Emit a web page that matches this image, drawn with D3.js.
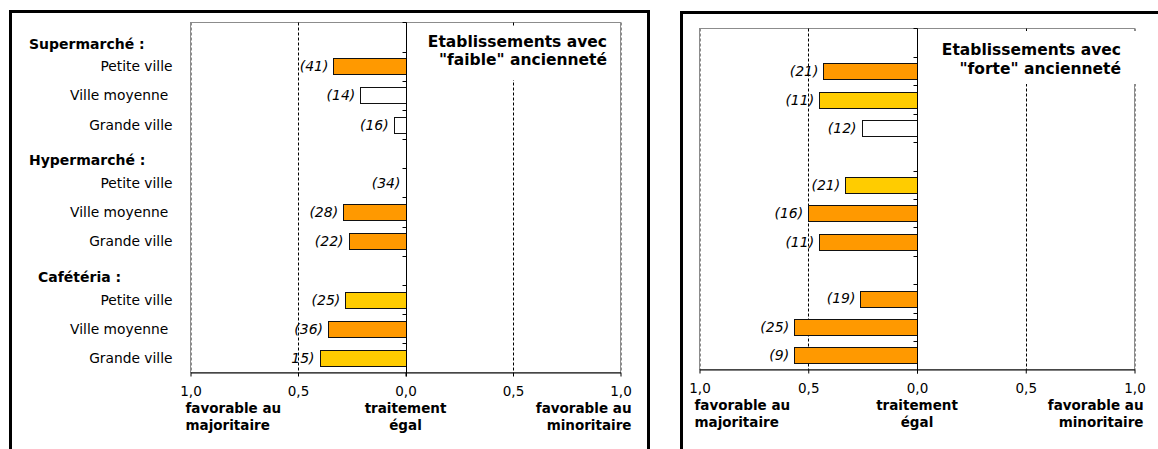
<!DOCTYPE html>
<html><head><meta charset="utf-8">
<script src="https://cdn.jsdelivr.net/npm/d3@7"></script>
<style>
body{margin:0;background:#fff}
svg{display:block}
text{font-family:Verdana,"DejaVu Sans",sans-serif;fill:#000}
</style>
</head><body>
<svg id="chart" width="1158" height="449"></svg>
<script>
// ---- data ----
const groups = ["Supermarché :", "Hypermarché :", "Cafétéria :"];
const cities = ["Petite ville", "Ville moyenne ", "Grande ville"];
const tickValues = [-1, -0.5, 0, 0.5, 1];
const tickLabels = ["1,0", "0,5", "0,0", "0,5", "1,0"];

const faibleValues = [-0.335, -0.21, -0.055, 0, -0.29, -0.265, -0.28, -0.36, -0.40];
const faibleCounts = ["(41)", "(14)", "(16)", "(34)", "(28)", "(22)", "(25)", "(36)", "15)"];
const faibleLevels = ["orange", "white", "white", "white", "orange", "orange", "yellow", "orange", "yellow"];

const forteValues = [-0.43, -0.45, -0.255, -0.33, -0.50, -0.45, -0.26, -0.565, -0.565];
const forteCounts = ["(21)", "(11)", "(12)", "(21)", "(16)", "(11)", "(19)", "(25)", "(9)"];
const forteLevels = ["orange", "yellow", "white", "yellow", "orange", "orange", "orange", "orange", "orange"];

const faibleTitle = ["Etablissements avec", "\"faible\" ancienneté"];
const forteTitle = ["Etablissements avec", "\"forte\" ancienneté"];
const bottomLeft = ["favorable au", "majoritaire"];
const bottomMid = ["traitement", "égal"];
const bottomRight = ["favorable au", "minoritaire"];

// ---- rows ----
const rows = [];
groups.forEach((g, gi) => {
  rows.push({key: "h" + gi, header: g, gi});
  cities.forEach((c, ci) => rows.push({key: gi + "-" + ci, city: c, idx: gi * 3 + ci}));
});

const colorScale = d3.scaleOrdinal().domain(["orange", "yellow", "white"]).range(["#FF9900", "#FFCC00", "#FFFFFF"]);

const svg = d3.select("#chart");

function panel(cfg) {
  const g = svg.append("g");
  // outer frame
  g.append("rect").attr("x", cfg.frame[0]).attr("y", cfg.frame[1])
    .attr("width", cfg.frame[2]).attr("height", cfg.frame[3])
    .attr("fill", "#fff").attr("stroke", "#000").attr("stroke-width", 3);

  const x = d3.scaleLinear().domain([-1, 1]).range([cfg.x0, cfg.x1]);
  const y = d3.scaleBand().domain(rows.map(r => r.key)).range([cfg.y0, cfg.y1])
    .paddingInner(0.45).paddingOuter(0.225);
  const step = y.step();

  // plot area
  g.append("rect").attr("x", cfg.x0).attr("y", cfg.y0)
    .attr("width", cfg.x1 - cfg.x0).attr("height", cfg.y1 - cfg.y0)
    .attr("fill", "#fff").attr("stroke", "#8c8c8c").attr("stroke-width", 1);

  // gridlines
  g.selectAll(".grid").data([-1, -0.5, 0.5, 1]).join("line")
    .attr("x1", d => Math.round(x(d)) + 0.5).attr("x2", d => Math.round(x(d)) + 0.5)
    .attr("y1", cfg.y0).attr("y2", cfg.y1)
    .attr("stroke", d => Math.abs(d) === 1 ? "#8c8c8c" : "#000")
    .attr("stroke-width", 1)
    .attr("stroke-dasharray", "3,2");

  // title box
  g.append("rect").attr("x", cfg.titleBox[0]).attr("y", cfg.titleBox[1])
    .attr("width", cfg.titleBox[2]).attr("height", cfg.titleBox[3]).attr("fill", "#fff");
  g.selectAll(".title").data(cfg.title).join("text")
    .attr("x", cfg.titleX).attr("y", (d, i) => cfg.titleY + i * 18.5)
    .attr("text-anchor", "end").attr("font-weight", "bold").attr("font-size", 15.5)
    .text(d => d);

  // bars
  const items = rows.filter(r => r.city);
  g.selectAll(".bar").data(items).join("rect")
    .attr("x", d => Math.round(x(Math.min(0, cfg.values[d.idx]))) + 0.5)
    .attr("y", d => Math.round(y(d.key)) + 0.5)
    .attr("width", d => Math.abs(Math.round(x(cfg.values[d.idx])) - Math.round(x(0))))
    .attr("height", Math.round(y.bandwidth()))
    .attr("fill", d => colorScale(cfg.levels[d.idx]))
    .attr("stroke", d => cfg.values[d.idx] === 0 ? "none" : "#111")
    .attr("stroke-width", 1);

  // value labels
  g.selectAll(".val").data(items).join("text")
    .attr("x", d => x(cfg.values[d.idx]) - 5)
    .attr("y", d => y(d.key) + y.bandwidth() / 2)
    .attr("dy", "0.36em")
    .attr("text-anchor", "end").attr("font-style", "italic").attr("font-size", 14)
    .attr("fill", "#222")
    .text(d => cfg.counts[d.idx]);

  // zero axis with ticks at band boundaries
  const z = Math.round(x(0)) + 0.5;
  g.append("line").attr("x1", z).attr("x2", z).attr("y1", cfg.y0).attr("y2", cfg.y1 + 4)
    .attr("stroke", "#000").attr("stroke-width", 1);
  const bounds = rows.map(r => y(r.key) - step * y.paddingInner() / 2);
  g.selectAll(".ztick").data(bounds).join("line")
    .attr("x1", z - 4).attr("x2", z)
    .attr("y1", d => Math.round(d) + 0.5).attr("y2", d => Math.round(d) + 0.5)
    .attr("stroke", "#000");

  // bottom axis
  const ax = g.append("g").attr("transform", `translate(0,${cfg.y1})`)
    .call(d3.axisBottom(x).tickValues(tickValues).tickFormat((d, i) => tickLabels[i])
      .tickSize(4).tickSizeOuter(0).tickPadding(10));
  ax.select(".domain").attr("stroke", "#000");
  ax.selectAll("text").attr("font-size", 13.5).attr("font-family", "Verdana, 'DejaVu Sans', sans-serif");

  // bottom descriptive labels
  const by = cfg.y1 + 40;
  g.selectAll(".bl").data(bottomLeft).join("text")
    .attr("x", cfg.x0 - 5).attr("y", (d, i) => by + i * 17.5)
    .attr("font-weight", "bold").attr("font-size", 13.5).text(d => d);
  g.selectAll(".bm").data(bottomMid).join("text")
    .attr("x", x(0)).attr("y", (d, i) => by + i * 17.5).attr("text-anchor", "middle")
    .attr("font-weight", "bold").attr("font-size", 13.5).text(d => d);
  g.selectAll(".br").data(bottomRight).join("text")
    .attr("x", cfg.x1 + cfg.rightPad).attr("y", (d, i) => by + i * 17.5).attr("text-anchor", "end")
    .attr("font-weight", "bold").attr("font-size", 13.5).text(d => d);

  // category labels
  if (cfg.showLabels) {
    g.selectAll(".cat").data(items).join("text")
      .attr("x", cfg.x0 - 18).attr("y", d => y(d.key) + y.bandwidth() / 2)
      .attr("dy", "0.36em").attr("text-anchor", "end").attr("font-size", 13.8)
      .attr("xml:space", "preserve")
      .text(d => d.city);
    g.selectAll(".hdr").data(rows.filter(r => r.header)).join("text")
      .attr("x", d => 29 + (d.gi === 2 ? 9 : 0))
      .attr("y", d => y(d.key) + y.bandwidth() / 2 + step * 0.23)
      .attr("dy", "0.36em").attr("font-weight", "bold").attr("font-size", 14)
      .text(d => d.header);
  }
}

panel({
  frame: [10.5, 11.5, 638, 470],
  x0: 190.5, x1: 620.5, y0: 22.5, y1: 372.5,
  values: faibleValues, counts: faibleCounts, levels: faibleLevels,
  title: faibleTitle, titleX: 607, titleY: 46.5, titleBox: [420, 26, 195, 54],
  showLabels: true, rightPad: 11
});

panel({
  frame: [681.5, 12.5, 600, 470],
  x0: 699.5, x1: 1134.5, y0: 28.5, y1: 369.5,
  values: forteValues, counts: forteCounts, levels: forteLevels,
  title: forteTitle, titleX: 1121, titleY: 55, titleBox: [935, 31, 210, 53],
  showLabels: false, rightPad: 9
});
</script>
</body></html>
